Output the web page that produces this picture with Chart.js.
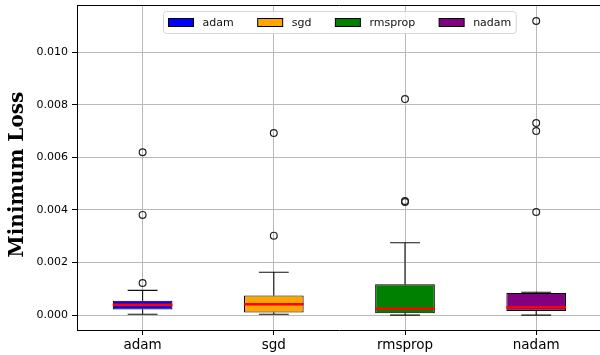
<!DOCTYPE html>
<html>
<head>
<meta charset="utf-8">
<script src="https://cdn.jsdelivr.net/npm/chart.js@4.4.1/dist/chart.umd.min.js"></script>
<style>
  html, body { margin: 0; padding: 0; overflow: hidden; background: #ffffff; }
  canvas { display: block; }
</style>
</head>
<body>
<canvas id="lossChart" width="607" height="355"></canvas>
<script>
// Minimum loss per optimizer, summarised as box plots
const optimizers = ['adam', 'sgd', 'rmsprop', 'nadam'];
const boxColors = ['#0000ff', '#ffa500', '#008000', '#800080'];

const whiskerLow  = [0.00003, 0.00003, 0.00000, 0.00000];
const quartile1   = [0.00021, 0.00010, 0.00007, 0.00016];
const medians     = [0.00039, 0.00041, 0.00024, 0.00030];
const quartile3   = [0.00055, 0.00075, 0.00117, 0.00084];
const whiskerHigh = [0.00094, 0.00163, 0.00275, 0.00087];
const outliers = [
  [0.00122, 0.00381, 0.00619],
  [0.00302, 0.00692],
  [0.00430, 0.00434, 0.00821],
  [0.00392, 0.00700, 0.00730, 0.01118]
];
const yTickValues = [0.000, 0.002, 0.004, 0.006, 0.008, 0.010];

const BOX_WIDTH = 0.455;            // box width in category units
const CAP_HALF = BOX_WIDTH / 4;     // caps are half as wide as the box
const Y_MIN = -0.000566;
const Y_MAX = 0.01178;
const GRID_COLOR = '#b9b9b9';

// One floating-bar dataset per optimizer so each gets its own legend entry
const boxDatasets = optimizers.map((name, i) => ({
  type: 'bar',
  label: name,
  isBox: true,
  data: [{ x: i, y: [quartile1[i], quartile3[i]] }],
  backgroundColor: boxColors[i],
  borderColor: '#000000',
  borderWidth: 1.1,
  borderSkipped: false,
  grouped: false,
  barPercentage: BOX_WIDTH,
  categoryPercentage: 1,
  order: 3
}));

// Whiskers and caps as broken line segments
const whiskerPoints = [];
optimizers.forEach((_, i) => {
  whiskerPoints.push(
    { x: i, y: quartile1[i] }, { x: i, y: whiskerLow[i] }, { x: i, y: null },
    { x: i - CAP_HALF, y: whiskerLow[i] }, { x: i + CAP_HALF, y: whiskerLow[i] }, { x: i, y: null },
    { x: i, y: quartile3[i] }, { x: i, y: whiskerHigh[i] }, { x: i, y: null },
    { x: i - CAP_HALF, y: whiskerHigh[i] }, { x: i + CAP_HALF, y: whiskerHigh[i] }, { x: i, y: null }
  );
});

const medianPoints = [];
optimizers.forEach((_, i) => {
  medianPoints.push(
    { x: i - BOX_WIDTH / 2, y: medians[i] }, { x: i + BOX_WIDTH / 2, y: medians[i] }, { x: i, y: null }
  );
});

const outlierPoints = [];
outliers.forEach((vals, i) => vals.forEach(v => outlierPoints.push({ x: i, y: v })));

// Legend drawn inside the plot, framed, centred near the top
const insideLegend = {
  id: 'insideLegend',
  afterDatasetsDraw(chart) {
    const { ctx, chartArea } = chart;
    const items = chart.data.datasets.filter(d => d.isBox);
    const patchW = 25, patchH = 8, textPad = 9, colSpace = 24, padX = 5, boxH = 22;
    ctx.save();
    ctx.font = '11px "DejaVu Sans"';
    const widths = items.map(d => ctx.measureText(d.label).width);
    const total = padX * 2 + items.reduce((s, d, k) => s + patchW + textPad + widths[k], 0) + colSpace * (items.length - 1);
    const x0 = Math.round((chartArea.left + chartArea.right) / 2 - total / 2) + 0.5;
    const y0 = Math.round(chartArea.top + 6) + 0.5;
    ctx.beginPath();
    ctx.roundRect(x0, y0, total, boxH, 3);
    ctx.fillStyle = 'rgba(255,255,255,0.8)';
    ctx.fill();
    ctx.strokeStyle = '#d6d6d6';
    ctx.lineWidth = 1;
    ctx.stroke();
    let x = x0 + padX;
    const cy = y0 + boxH / 2;
    items.forEach((d, k) => {
      ctx.fillStyle = d.backgroundColor;
      ctx.fillRect(x, cy - patchH / 2, patchW, patchH);
      ctx.strokeStyle = '#000000';
      ctx.lineWidth = 1;
      ctx.strokeRect(x, cy - patchH / 2, patchW, patchH);
      ctx.fillStyle = '#111111';
      ctx.textBaseline = 'middle';
      ctx.textAlign = 'left';
      ctx.fillText(d.label, x + patchW + textPad, cy + 0.5);
      x += patchW + textPad + widths[k] + colSpace;
    });
    ctx.restore();
  }
};

const noEdgePadding = s => { s.paddingTop = 0; s.paddingBottom = 0; s.paddingLeft = 0; s.paddingRight = 0; };

new Chart(document.getElementById('lossChart'), {
  type: 'bar',
  data: {
    datasets: [
      ...boxDatasets,
      {
        type: 'line',
        label: 'whiskers',
        data: whiskerPoints,
        borderColor: '#111111',
        borderWidth: 1.1,
        pointRadius: 0,
        spanGaps: false,
        fill: false,
        order: 2
      },
      {
        type: 'line',
        label: 'medians',
        data: medianPoints,
        borderColor: '#ff0000',
        borderWidth: 2.6,
        pointRadius: 0,
        spanGaps: false,
        fill: false,
        order: 1
      },
      {
        type: 'scatter',
        label: 'outliers',
        data: outlierPoints,
        pointRadius: 3.4,
        pointBorderWidth: 1.2,
        pointBorderColor: '#222222',
        pointBackgroundColor: 'rgba(0,0,0,0)',
        showLine: false,
        order: 0
      }
    ]
  },
  options: {
    responsive: false,
    animation: false,
    events: [],
    layout: { padding: 0 },
    plugins: {
      legend: { display: false },
      tooltip: { enabled: false }
    },
    scales: {
      x: {
        type: 'linear',
        position: 'bottom',
        offset: false,
        min: -0.5,
        max: 3.5,
        afterBuildTicks: s => { s.ticks = optimizers.map((_, i) => ({ value: i })); },
        afterFit: s => { s.height = 25; noEdgePadding(s); },
        ticks: {
          callback: v => optimizers[v],
          font: { family: 'DejaVu Sans', size: 13.5 },
          color: '#000000',
          padding: 2,
          maxRotation: 0,
          autoSkip: false
        },
        grid: {
          offset: false,
          color: GRID_COLOR,
          lineWidth: 1,
          tickColor: '#000000',
          tickLength: 5,
          tickWidth: 1
        },
        border: { display: true, color: '#000000', width: 1 }
      },
      xTop: {
        type: 'linear',
        position: 'top',
        afterFit: s => { s.height = 3; noEdgePadding(s); },
        ticks: { display: false },
        grid: { drawOnChartArea: false, drawTicks: false },
        border: { display: true, color: '#000000', width: 1 }
      },
      y: {
        type: 'linear',
        min: Y_MIN,
        max: Y_MAX,
        afterBuildTicks: s => { s.ticks = yTickValues.map(v => ({ value: v })); },
        afterFit: s => { s.width = 77; noEdgePadding(s); },
        ticks: {
          callback: v => v.toFixed(3),
          font: { family: 'DejaVu Sans', size: 11 },
          color: '#000000',
          padding: 4
        },
        grid: {
          color: GRID_COLOR,
          lineWidth: 1,
          tickColor: '#000000',
          tickLength: 5,
          tickWidth: 1
        },
        border: { display: true, color: '#000000', width: 1 },
        title: {
          display: true,
          text: 'Minimum Loss  ',
          font: { family: 'DejaVu Serif', size: 20, weight: 'bold' },
          color: '#000000',
          padding: { top: 6, bottom: 0 }
        }
      }
    }
  },
  plugins: [insideLegend]
});
</script>
</body>
</html>
